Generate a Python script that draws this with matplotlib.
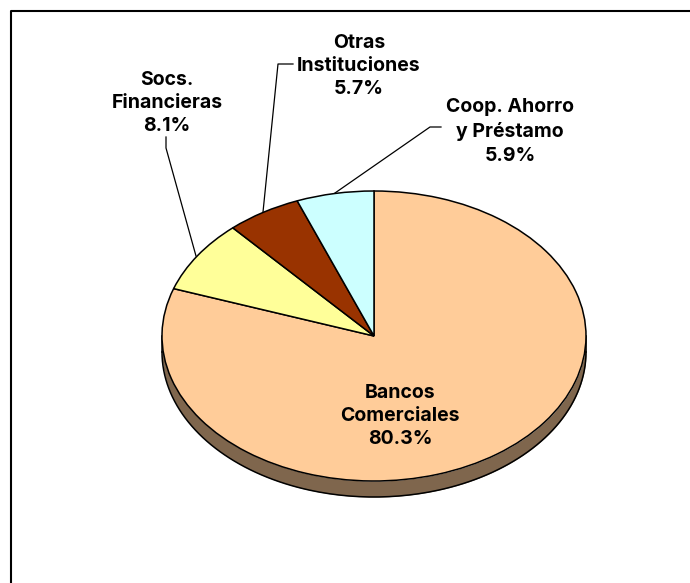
import numpy as np
import matplotlib
matplotlib.use("Agg")
from matplotlib import pyplot as plt

categories = ["Bancos\nComerciales", "Socs.\nFinancieras", "Otras\nInstituciones", "Coop. Ahorro\ny Préstamo"]
shares = [80.3, 8.1, 5.7, 5.9]
slice_colors = ["#FFCC99", "#FFFF99", "#993300", "#CCFFFF"]
side_color = "#7F664D"

W, H = 690, 583
CX, CY = 374, 336
RX, RY = 212, 145
DEPTH = 16


def px(x, y):
    # pixel position on the figure -> pie coordinates
    return (x - CX) / RX, (CY - y) / RY


plt.rcParams["font.family"] = ["Inter", "Liberation Sans", "DejaVu Sans"]
fig = plt.figure(figsize=(W / 100, H / 100), dpi=100, facecolor="white")
ax = fig.add_axes([0, 0, 1, 1])

# side wall of the disc
d = DEPTH / RY
t = np.linspace(np.pi, 2 * np.pi, 200)
ax.fill_between(np.cos(t), np.sin(t), np.sin(t) - d, color=side_color, lw=0, zorder=0)
ax.plot(np.cos(t), np.sin(t) - d, color="black", lw=1.1, zorder=1)
ax.plot([-1, -1], [0, -d], color="black", lw=1.1, zorder=1)
ax.plot([1, 1], [0, -d], color="black", lw=1.1, zorder=1)

wedges, _ = ax.pie(shares, colors=slice_colors, startangle=90, counterclock=False,
                   radius=1, wedgeprops={"edgecolor": "black", "linewidth": 1.1, "zorder": 2})

ax.set_aspect("auto")
ax.set_xlim(px(0, 0)[0], px(W, 0)[0])
ax.set_ylim(px(0, H)[1], px(0, 0)[1])
ax.axis("off")

# outer frame, only left and top are inside the canvas
frame_x = [10.5, 10.5, W]
frame_y = [H, 10.5, 10.5]
ax.plot(*px(np.array(frame_x), np.array(frame_y)), color="black", lw=1.5, zorder=5, clip_on=False)

# leader lines
leaders = [
    ([166, 166, 196], [137, 148, 256]),
    ([293, 278, 263], [64, 64, 212]),
    ([441, 430, 335], [127, 127, 193]),
]
for lx, ly in leaders:
    ax.plot(*px(np.array(lx), np.array(ly)), color="black", lw=0.9, zorder=4)

label_pos = [(400, 416), (167, 103), (359, 66), (510, 131.5)]
for name, share, (x, y) in zip(categories, shares, label_pos):
    ax.text(*px(x, y), f"{name}\n{share:.1f}%", ha="center", va="center", fontsize=14,
            fontweight="bold", linespacing=1.38, color="black", zorder=6)

fig.savefig("out.png", dpi=100)
